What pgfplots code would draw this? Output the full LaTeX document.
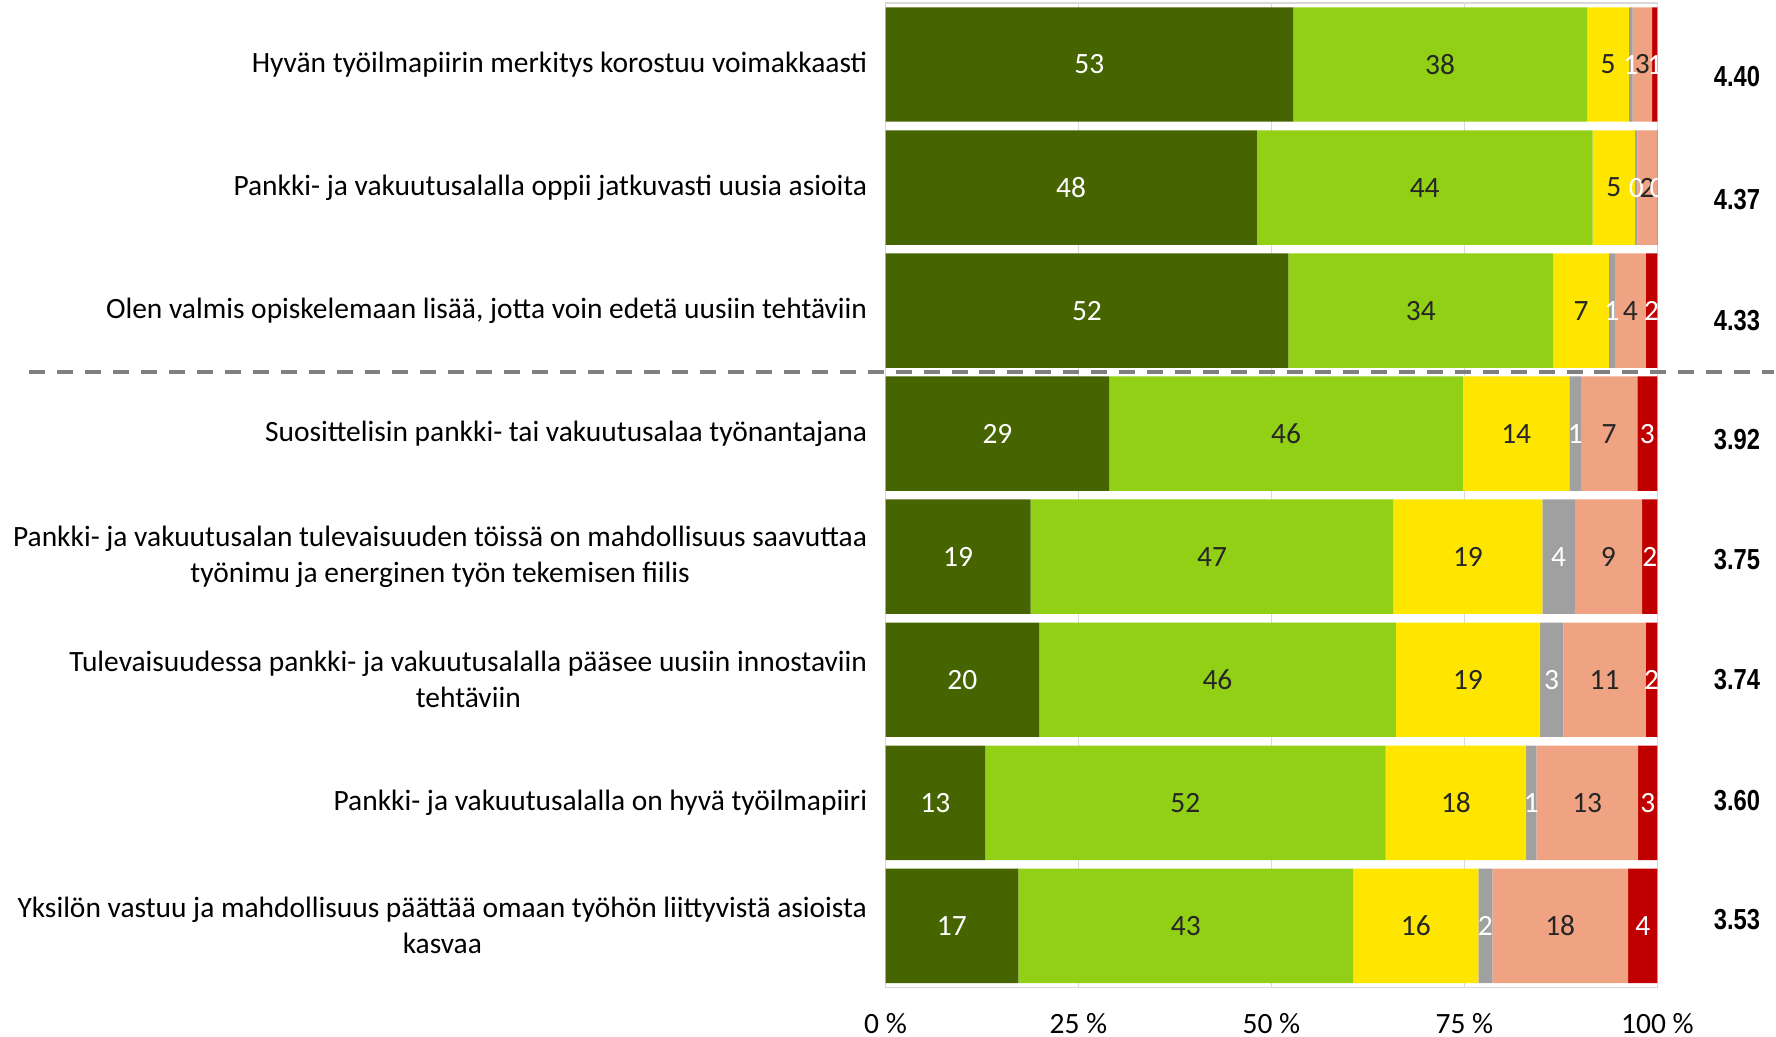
\documentclass[border=0pt]{standalone}
\usepackage{pgfplots}
\pgfplotsset{compat=1.18}
\usepackage{pgfplotstable}
\usepackage{fontspec}
\setmainfont{Carlito}
\newfontfamily\avgfont[FakeStretch=0.82]{Liberation Sans}
\newcommand\lbl{\fontsize{14.75}{18}\selectfont}
\definecolor{cA}{RGB}{70,100,0}
\definecolor{cB}{RGB}{146,208,22}
\definecolor{cC}{RGB}{255,230,0}
\definecolor{cD}{RGB}{160,160,160}
\definecolor{cE}{RGB}{240,163,131}
\definecolor{cF}{RGB}{192,0,0}
\definecolor{gridc}{RGB}{217,217,217}
\definecolor{txt}{RGB}{38,38,38}
\definecolor{dashc}{RGB}{128,128,128}

\pgfplotstableread{
row a b c d e f la lb lc ld le lf avg ay
0 52.8 38.1 5.4 0.5 2.5 0.7 53 38 5 1 3 1 4.40 0.10
1 48.1 43.5 5.5 0.3 2.5 0.1 48 44 5 0 2 0 4.37 1.10
2 52.2 34.3 7.2 0.8 4.0 1.5 52 34 7 1 4 2 4.33 2.08
3 29.0 45.8 13.8 1.5 7.3 2.6 29 46 14 1 7 3 3.92 3.05
4 18.8 47.0 19.3 4.2 8.7 2.0 19 47 19 4 9 2 3.75 4.02
5 19.9 46.2 18.7 3.0 10.7 1.5 20 46 19 3 11 2 3.74 5.00
6 12.9 51.9 18.2 1.3 13.2 2.5 13 52 18 1 13 3 3.60 5.98
7 17.2 43.4 16.2 1.8 17.6 3.8 17 43 16 2 18 4 3.53 6.95
}\data

\begin{document}
\begin{tikzpicture}
\path (-443.5pt,-24.5pt) rectangle (444.5pt,494.5pt);
\begin{axis}[
  at={(0,0)}, anchor=south west, scale only axis,
  width=386.6pt, height=493pt,
  xbar stacked, bar width=0.93,
  y dir=reverse, ymin=-0.5, ymax=7.5, xmin=0, xmax=100,
  ytick={0,...,7},
  yticklabels={
    {Hyvän työilmapiirin merkitys korostuu voimakkaasti},
    {Pankki- ja vakuutusalalla oppii jatkuvasti uusia asioita},
    {Olen valmis opiskelemaan lisää, jotta voin edetä uusiin tehtäviin},
    {Suosittelisin pankki- tai vakuutusalaa työnantajana},
    {Pankki- ja vakuutusalan tulevaisuuden töissä on mahdollisuus saavuttaa\\työnimu ja energinen työn tekemisen fiilis},
    {Tulevaisuudessa pankki- ja vakuutusalalla pääsee uusiin innostaviin\\tehtäviin},
    {Pankki- ja vakuutusalalla on hyvä työilmapiiri},
    {Yksilön vastuu ja mahdollisuus päättää omaan työhön liittyvistä asioista\\kasvaa}},
  xtick={0,25,50,75,100},
  xticklabels={0 \%,25 \%,50 \%,75 \%,100 \%},
  xmajorgrids, grid style={gridc, line width=0.75pt},
  axis line style={gridc, line width=0.75pt},
  major tick length=0pt,
  yticklabel style={align=center, font=\lbl, text=black, inner sep=0pt, xshift=-9pt},
  xticklabel style={font=\lbl, text=black, inner sep=0pt, yshift=-13pt},
  clip=false,
]
\addplot[fill=cA, draw=none] table[x=a, y=row] {\data};
\addplot[fill=cB, draw=none] table[x=b, y=row] {\data};
\addplot[fill=cC, draw=none] table[x=c, y=row] {\data};
\addplot[fill=cD, draw=none] table[x=d, y=row] {\data};
\addplot[fill=cE, draw=none] table[x=e, y=row] {\data};
\addplot[fill=cF, draw=none] table[x=f, y=row] {\data};
\end{axis}
\begin{axis}[
  at={(0,0)}, anchor=south west, scale only axis,
  width=386.6pt, height=493pt,
  y dir=reverse, ymin=-0.5, ymax=7.5, xmin=0, xmax=100,
  hide axis, clip=false,
  every node near coord/.append style={anchor=center, font=\lbl, inner sep=0pt},
]
\draw[dashc, line width=2pt, dash pattern=on 8pt off 6pt] (axis cs:-110.95,2.5) -- (axis cs:115.1,2.5);
\addplot[only marks, mark=none, nodes near coords, point meta=explicit symbolic, nodes near coords style={text=white}]
  table[x expr=\thisrow{a}/2, y=row, meta=la] {\data};
\addplot[only marks, mark=none, nodes near coords, point meta=explicit symbolic, nodes near coords style={text=txt}]
  table[x expr=\thisrow{a}+\thisrow{b}/2, y=row, meta=lb] {\data};
\addplot[only marks, mark=none, nodes near coords, point meta=explicit symbolic, nodes near coords style={text=txt}]
  table[x expr=\thisrow{a}+\thisrow{b}+\thisrow{c}/2, y=row, meta=lc] {\data};
\addplot[only marks, mark=none, nodes near coords, point meta=explicit symbolic, nodes near coords style={text=white}]
  table[x expr=\thisrow{a}+\thisrow{b}+\thisrow{c}+\thisrow{d}/2, y=row, meta=ld] {\data};
\addplot[only marks, mark=none, nodes near coords, point meta=explicit symbolic, nodes near coords style={text=txt}]
  table[x expr=\thisrow{a}+\thisrow{b}+\thisrow{c}+\thisrow{d}+\thisrow{e}/2, y=row, meta=le] {\data};
\addplot[only marks, mark=none, nodes near coords, point meta=explicit symbolic, nodes near coords style={text=white}]
  table[x expr=\thisrow{a}+\thisrow{b}+\thisrow{c}+\thisrow{d}+\thisrow{e}+\thisrow{f}/2, y=row, meta=lf] {\data};
\addplot[only marks, mark=none, nodes near coords, point meta=explicit symbolic, nodes near coords style={text=black, font={\avgfont\bfseries\fontsize{14.5}{18}\selectfont}}]
  table[x expr=110.3, y=ay, meta=avg] {\data};
\end{axis}
\end{tikzpicture}
\end{document}
